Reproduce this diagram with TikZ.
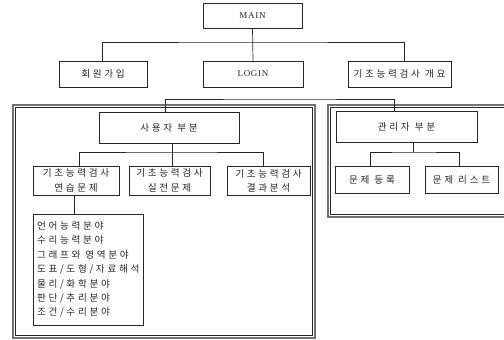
\documentclass[tikz,border=0pt]{standalone}
\usepackage{fontspec}
\setmainfont{Liberation Serif}
\newfontfamily\cjk[LetterSpace=28]{Noto Sans CJK KR}
\newfontfamily\latn[LetterSpace=8]{Liberation Serif}
\newcommand{\ks}{\hskip 5pt}
\begin{document}
\begin{tikzpicture}[x=1pt,y=-1pt,
  box/.style={draw=black!85,line width=0.7pt,fill=white,rectangle,inner sep=0pt,font=\cjk\fontsize{9.6}{12}\selectfont,align=center,text=black!85},
  conn/.style={draw=black!85,line width=0.7pt},
  frameout/.style={draw=black!55,line width=1.6pt},
  framein/.style={draw=black!85,line width=0.5pt}]
\useasboundingbox (0,0) rectangle (504,340);
% frames
\draw[frameout] (13,105) rectangle (315,338);
\draw[framein] (15.5,107.5) rectangle (312.5,335.5);
\draw[frameout] (328,105) rectangle (510,217);
\draw[framein] (330.5,107.5) rectangle (507.5,214.5);
% nodes
\node[box,minimum width=99pt,minimum height=25pt] (main) at (252.5,15.5) {\latn\fontsize{9}{10}\selectfont MAIN};
\node[box,minimum width=88pt,minimum height=26pt] (join) at (103,74) {회원가입};
\node[box,minimum width=100pt,minimum height=26pt] (login) at (253,74) {\latn\fontsize{9}{10}\selectfont LOGIN};
\node[box,minimum width=103pt,minimum height=26pt] (over) at (399.5,74) {기초능력검사\ks 개요};
\node[box,minimum width=140pt,minimum height=31pt] (user) at (169,127.5) {사용자\ks 부분};
\node[box,minimum width=86pt,minimum height=29pt] (c1) at (76,180.5) {기초능력검사\\[2.5pt]연습문제};
\node[box,minimum width=81pt,minimum height=29pt] (c2) at (169.5,180.5) {기초능력검사\\[2.5pt]실전문제};
\node[box,minimum width=83pt,minimum height=29pt] (c3) at (268.5,181) {기초능력검사\\[2.5pt]결과분석};
\node[box,minimum width=110pt,minimum height=111pt,align=left,text width=102pt,font=\cjk\fontsize{9.6}{14.4}\selectfont] (list) at (88,269.5) {언어능력분야\\수리능력분야\\그래프와\ks 영역분야\\도표/도형/자료해석\\물리/화학분야\\판단/추리분야\\조건/수리분야};
\node[box,minimum width=141pt,minimum height=31pt] (admin) at (406.5,126.5) {관리자\ks 부분};
\node[box,minimum width=74pt,minimum height=27pt] (reg) at (372,179.5) {문제\ks 등록};
\node[box,minimum width=73pt,minimum height=27pt] (lst) at (461.5,179.5) {문제\ks 리스트};
% connectors
\coordinate (b1) at (252.5,42);
\coordinate (b2) at (280,99);
\coordinate (b3) at (172,152);
\coordinate (b4) at (413,152);
\draw[conn] (main.south) -- (login.north);
\draw[conn] ([xshift=-1pt]join.north) |- (b1) -| ([xshift=4.5pt]over.north);
\draw[conn] ([xshift=-4pt]user.north) |- (b2) -| ([xshift=-12.5pt]admin.north);
\draw[conn] ([xshift=3pt]user.south) -- ([xshift=2.5pt]c2.north);
\draw[conn] ([xshift=3pt]c1.north) |- (b3) -| ([xshift=-5.5pt]c3.north);
\draw[conn] ([xshift=-2pt]c1.south) -- ([xshift=-14pt]list.north);
\draw[conn] ([xshift=6.5pt]admin.south) -- (b4);
\draw[conn] ([xshift=-2pt]reg.north) |- (b4) -| ([xshift=-2.5pt]lst.north);
\end{tikzpicture}
\end{document}
